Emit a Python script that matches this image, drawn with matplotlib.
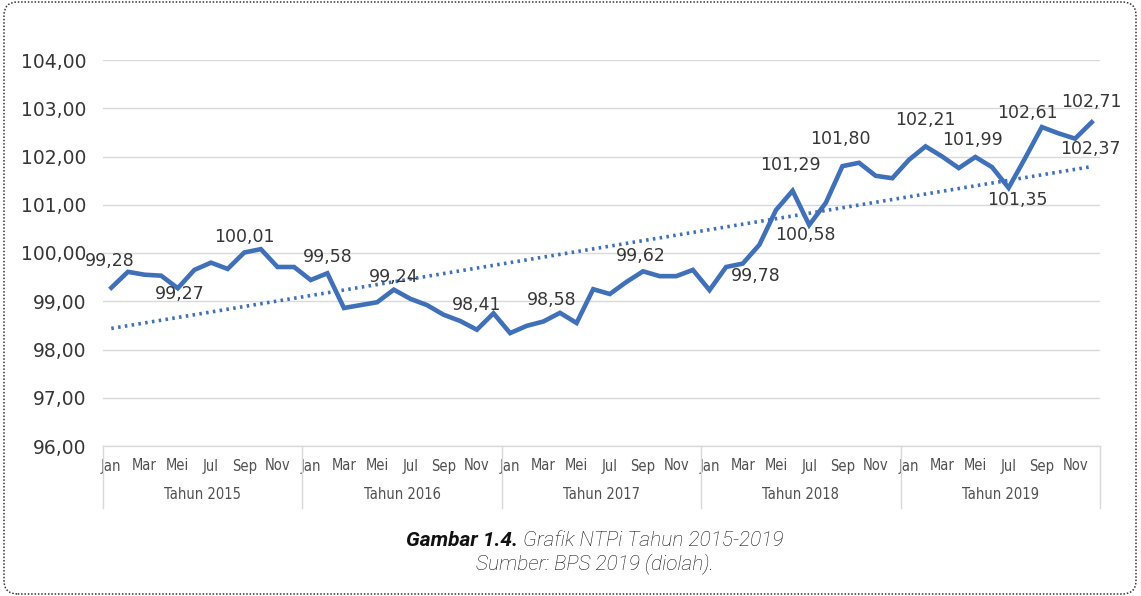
import numpy as np
import matplotlib
matplotlib.use("Agg")
import matplotlib.pyplot as plt
import matplotlib.transforms as mtransforms
from matplotlib.patches import FancyBboxPatch

# NTPi bulanan 2015-2019
ntpi_2015 = [99.28, 99.61, 99.55, 99.53, 99.27, 99.65, 99.80, 99.67, 100.01, 100.08, 99.71, 99.71]
ntpi_2016 = [99.44, 99.58, 98.86, 98.92, 98.98, 99.24, 99.05, 98.92, 98.72, 98.59, 98.41, 98.75]
ntpi_2017 = [98.34, 98.49, 98.58, 98.76, 98.55, 99.25, 99.15, 99.40, 99.62, 99.52, 99.52, 99.65]
ntpi_2018 = [99.23, 99.71, 99.78, 100.17, 100.89, 101.29, 100.58, 101.04, 101.80, 101.87, 101.60, 101.55]
ntpi_2019 = [101.93, 102.21, 102.00, 101.76, 101.99, 101.78, 101.35, 101.97, 102.61, 102.48, 102.37, 102.71]

years = ["Tahun 2015", "Tahun 2016", "Tahun 2017", "Tahun 2018", "Tahun 2019"]
months = ["Jan", "Feb", "Mar", "Apr", "Mei", "Jun", "Jul", "Agu", "Sep", "Okt", "Nov", "Des"]
y_ticks = [96, 97, 98, 99, 100, 101, 102, 103, 104]

# which points carry a data label, and the label offset in pixels (dx, dy)
label_idx = [0, 4, 8, 13, 17, 22, 26, 32, 38, 41, 42, 44, 49, 52, 54, 56, 58, 59]
label_off = [(-2, 27), (2, -6), (0, 16), (0, 16), (0, 13), (0, 25), (8, 22), (-2, 15),
             (13, -12), (-2, 26), (-4, -10), (-2, 27), (0, 26), (-3, 17), (9, -12),
             (-14, 14), (15, -10), (0, 20)]

values = np.array(ntpi_2015 + ntpi_2016 + ntpi_2017 + ntpi_2018 + ntpi_2019)
x = np.arange(len(values))

BLUE = "#3F70B8"
GREY_TXT = "#363636"
GRID = "#D9D9D9"
CAT_FONT = dict(family="DejaVu Sans", stretch="condensed")


def fmt(v):
    return f"{v:.2f}".replace(".", ",")


W, H = 1141, 596
fig = plt.figure(figsize=(W / 100, H / 100), dpi=100)
ax = fig.add_axes([103 / W, 1 - 446 / H, (1100 - 103) / W, (446 - 60) / H])

ax.plot(x, values, color=BLUE, lw=3.3, solid_joinstyle="miter", zorder=3)

# linear trendline like Excel
k, b = np.polyfit(x, values, 1)
ax.plot(x, k * x + b, color=BLUE, lw=2.6, ls=(0, (0.7, 1.2)), dash_capstyle="butt", zorder=2)

for i, (dx, dy) in zip(label_idx, label_off):
    ax.annotate(fmt(values[i]), (x[i], values[i]), xytext=(dx, dy), textcoords="offset pixels",
                ha="center", va="center", fontsize=12.5, color=GREY_TXT, zorder=4)

ax.set_xlim(-0.5, len(values) - 0.5)
ax.set_ylim(96, 104)
ax.set_yticks(y_ticks)
ax.set_yticklabels([fmt(t) for t in y_ticks], fontsize=13.5, color=GREY_TXT)
ax.tick_params(axis="y", length=0, pad=12)
ax.grid(axis="y", color=GRID, lw=1)
for s in ax.spines.values():
    s.set_visible(False)

ax.set_xticks(x[::2])
ax.set_xticklabels(months[::2] * len(years), fontsize=10.5, color="#505050", **CAT_FONT)
ax.tick_params(axis="x", length=0, pad=9)

# category axis: year groups and separators
trans = mtransforms.blended_transform_factory(ax.transData, ax.transAxes)
ax.plot([-0.5, len(values) - 0.5], [0, 0], color=GRID, lw=1, transform=trans, clip_on=False)
for j, yr in enumerate(years):
    ax.text(12 * j + 5.5, -0.125, yr, transform=trans, ha="center", va="center",
            fontsize=10.5, color="#505050", **CAT_FONT)
for j in range(len(years) + 1):
    ax.plot([12 * j - 0.5] * 2, [0, -0.16], color=GRID, lw=1, transform=trans, clip_on=False)

# caption, first line is a bold part plus a light part, centred together
cap_x = 595
cap_y = 1 - 541 / H
t1 = fig.text(0.5, cap_y, "Gambar 1.4.", ha="left", va="center", fontsize=15,
              fontweight="bold", fontstyle="italic", family="Roboto", color="#111111")
t2 = fig.text(0.5, cap_y, " Grafik NTPi Tahun 2015-2019", ha="left", va="center", fontsize=15,
              fontweight="light", fontstyle="italic", family="Roboto", color="#111111")
renderer = fig.canvas.get_renderer()
w1 = t1.get_window_extent(renderer).width
w2 = t2.get_window_extent(renderer).width
x0 = cap_x - (w1 + w2) / 2
t1.set_x(x0 / W)
t2.set_x((x0 + w1) / W)
fig.text(cap_x / W, 1 - 564 / H, "Sumber: BPS 2019 (diolah).", ha="center", va="center",
         fontsize=15, fontweight="light", fontstyle="italic", family="Roboto", color="#111111")

# dotted page border
border = FancyBboxPatch((4 / W, 2 / H), (1136 - 4) / W, (594 - 2) / H,
                        boxstyle="round,pad=0,rounding_size=0.012", mutation_aspect=W / H,
                        transform=fig.transFigure, fill=False, ec="#333333", lw=1.1,
                        ls=(0, (1, 1.2)))
fig.patches.append(border)

fig.savefig("out.png", dpi=100)
